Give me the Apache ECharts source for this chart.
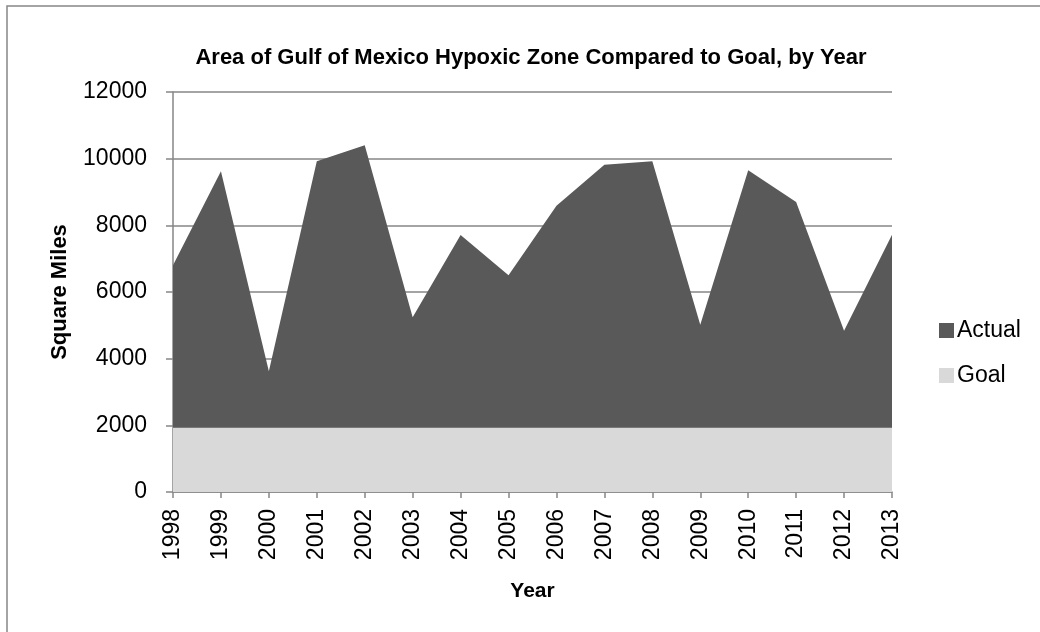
<!DOCTYPE html>
<html>
<head>
    <meta charset="utf-8">
    <title>Gulf of Mexico Hypoxic Zone</title>
    <script src="https://cdn.jsdelivr.net/npm/echarts@6/dist/echarts.min.js"></script>
    <style>
        body{
            margin: 0;
            background: #fff;
        }
        #chart{
            width: 1040px;
            height: 632px;
        }
    </style>
</head>
<body>
<div id="chart"></div>
<script>
    // data (square miles)
    var years = ['1998','1999','2000','2001','2002','2003','2004','2005','2006','2007','2008','2009','2010','2011','2012','2013'];
    var actual = [6800, 9620, 3620, 9920, 10400, 5240, 7710, 6500, 8590, 9820, 9920, 5020, 9650, 8700, 4840, 7720];
    var goal = [1930, 1930, 1930, 1930, 1930, 1930, 1930, 1930, 1930, 1930, 1930, 1930, 1930, 1930, 1930, 1930];
    var yTicks = [0, 2000, 4000, 6000, 8000, 10000, 12000];

    var font = '"Liberation Sans", Arial, sans-serif';
    var axisGray = '#868686';

    var chart = echarts.init(document.getElementById('chart'));
    chart.setOption({
        animation: false,
        backgroundColor: '#fff',
        textStyle: { fontFamily: font, color: '#000' },
        graphic: [{
            type: 'rect',
            shape: { x: 7, y: 6, width: 1100, height: 700 },
            style: { fill: null, stroke: axisGray, lineWidth: 1.5 },
            silent: true
        }],
        title: {
            text: 'Area of Gulf of Mexico Hypoxic Zone Compared to Goal, by Year',
            left: 526,
            textAlign: 'center',
            top: 42,
            textStyle: { fontFamily: font, fontWeight: 'bold', fontSize: 22, color: '#000' }
        },
        legend: {
            orient: 'vertical',
            left: 934,
            top: 314,
            itemWidth: 15,
            itemHeight: 15,
            itemGap: 22,
            icon: 'rect',
            data: ['Actual', 'Goal'],
            textStyle: { fontFamily: font, fontSize: 23, color: '#000', padding: [0, 0, 0, -2] }
        },
        grid: { left: 173, right: 148, top: 92, bottom: 140 },
        xAxis: {
            type: 'category',
            data: years,
            boundaryGap: false,
            name: 'Year',
            nameLocation: 'middle',
            nameGap: 89,
            nameTextStyle: { fontFamily: font, fontWeight: 'bold', fontSize: 21, color: '#000' },
            axisLine: { lineStyle: { color: axisGray, width: 1.5 } },
            axisTick: { length: 6, lineStyle: { color: axisGray, width: 1.5 } },
            axisLabel: { rotate: 90, margin: 17, fontSize: 23, color: '#000', fontFamily: font }
        },
        yAxis: {
            type: 'value',
            min: yTicks[0],
            max: yTicks[yTicks.length - 1],
            interval: 2000,
            name: 'Square Miles',
            nameLocation: 'middle',
            nameGap: 102,
            nameTextStyle: { fontFamily: font, fontWeight: 'bold', fontSize: 22, color: '#000' },
            axisLine: { show: true, lineStyle: { color: axisGray, width: 1.5 } },
            axisTick: { show: true, length: 7, lineStyle: { color: axisGray, width: 1.5 } },
            axisLabel: {
                margin: 26, fontSize: 23, color: '#000', fontFamily: font,
                formatter: function (v) { return String(v); }
            },
            splitLine: { lineStyle: { color: axisGray, width: 1.5 } }
        },
        series: [{
            name: 'Actual',
            type: 'line',
            data: actual,
            symbol: 'none',
            lineStyle: { width: 0 },
            areaStyle: { color: '#595959', opacity: 1 },
            itemStyle: { color: '#595959' },
            z: 2
        }, {
            name: 'Goal',
            type: 'line',
            data: goal,
            symbol: 'none',
            lineStyle: { width: 0 },
            areaStyle: { color: '#d9d9d9', opacity: 1 },
            itemStyle: { color: '#d9d9d9' },
            z: 3
        }]
    });
</script>
</body>
</html>
